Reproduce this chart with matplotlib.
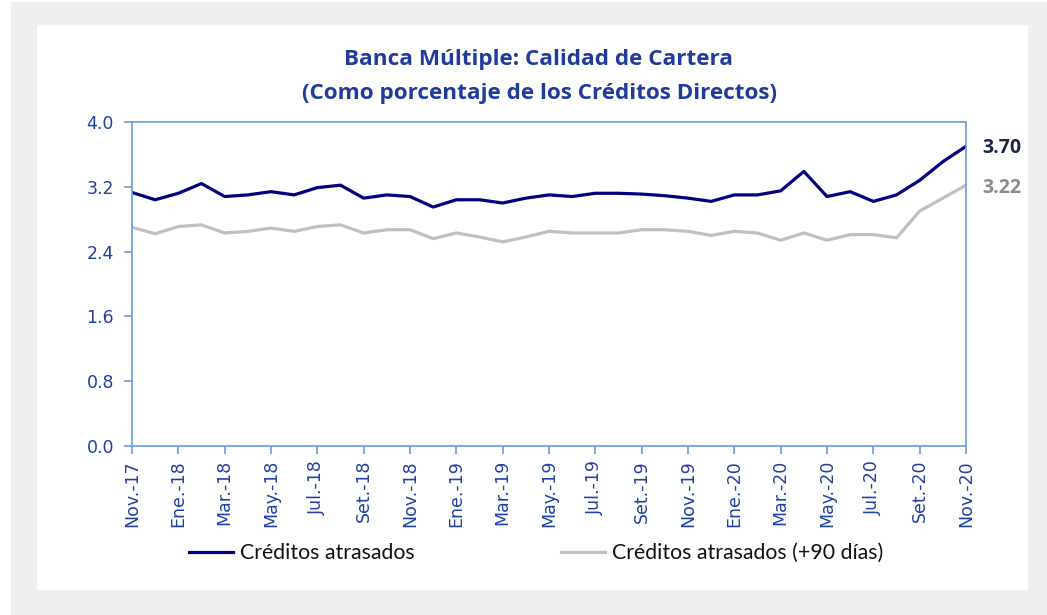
import matplotlib.pyplot as plt
from matplotlib.patches import Rectangle

# Data (monthly, Nov-17 .. Nov-20)
meses = ['Nov.-17', 'Dic.-17', 'Ene.-18', 'Feb.-18', 'Mar.-18', 'Abr.-18', 'May.-18', 'Jun.-18',
         'Jul.-18', 'Ago.-18', 'Set.-18', 'Oct.-18', 'Nov.-18', 'Dic.-18', 'Ene.-19', 'Feb.-19',
         'Mar.-19', 'Abr.-19', 'May.-19', 'Jun.-19', 'Jul.-19', 'Ago.-19', 'Set.-19', 'Oct.-19',
         'Nov.-19', 'Dic.-19', 'Ene.-20', 'Feb.-20', 'Mar.-20', 'Abr.-20', 'May.-20', 'Jun.-20',
         'Jul.-20', 'Ago.-20', 'Set.-20', 'Oct.-20', 'Nov.-20']
atrasados = [3.13, 3.04, 3.12, 3.24, 3.08, 3.10, 3.14, 3.10, 3.19, 3.22, 3.06, 3.10, 3.08,
             2.95, 3.04, 3.04, 3.00, 3.06, 3.10, 3.08, 3.12, 3.12, 3.11, 3.09, 3.06, 3.02,
             3.10, 3.10, 3.15, 3.39, 3.08, 3.14, 3.02, 3.10, 3.28, 3.51, 3.70]
atrasados_90 = [2.70, 2.62, 2.71, 2.73, 2.63, 2.65, 2.69, 2.65, 2.71, 2.73, 2.63, 2.67, 2.67,
                2.56, 2.63, 2.58, 2.52, 2.58, 2.65, 2.63, 2.63, 2.63, 2.67, 2.67, 2.65, 2.60,
                2.65, 2.63, 2.54, 2.63, 2.54, 2.61, 2.61, 2.57, 2.90, 3.06, 3.22]

W, H = 1047, 615
fig = plt.figure(figsize=(W / 100, H / 100), dpi=100)
fig.patch.set_facecolor('white')

# background panels
fig.patches.append(Rectangle((11 / W, 0), (W - 11) / W, (H - 2) / H, transform=fig.transFigure,
                             facecolor='#efefef', edgecolor='none', zorder=-2))
fig.patches.append(Rectangle((37 / W, (H - 590) / H), (1028 - 37) / W, (590 - 25) / H,
                             transform=fig.transFigure, facecolor='white', edgecolor='none', zorder=-1))

ax = fig.add_axes([132 / W, (H - 446) / H, (966 - 132) / W, (446 - 122) / H])
ax.set_facecolor('none')

x = list(range(len(meses)))
ax.plot(x, atrasados, color='#000080', lw=2.3, label='Créditos atrasados')
ax.plot(x, atrasados_90, color='#c0c0c0', lw=2.3, label='Créditos atrasados (+90 días)')

ax.set_xlim(0, len(meses) - 1)
ax.set_ylim(0, 4.0)
ax.set_yticks([0.0, 0.8, 1.6, 2.4, 3.2, 4.0])
ax.set_yticklabels(['0.0', '0.8', '1.6', '2.4', '3.2', '4.0'])
ax.set_xticks(x[::2])
ax.set_xticklabels(meses[::2], rotation=90)

spine_c = '#6a9be0'
tick_c = '#1f3fa6'
for s in ax.spines.values():
    s.set_color(spine_c)
    s.set_linewidth(1.2)
ax.tick_params(axis='both', colors=spine_c, length=6, width=1.2, labelcolor=tick_c,
               labelsize=12.5, direction='out')
ax.tick_params(axis='y', pad=7)
ax.tick_params(axis='x', pad=4)

# end labels
ax.annotate('3.70', xy=(x[-1], atrasados[-1]), xytext=(12, -1), textcoords='offset points',
            ha='left', va='center', fontsize=14, fontweight='bold', color='#1c2745',
            family='Open Sans', annotation_clip=False)
ax.annotate('3.22', xy=(x[-1], atrasados_90[-1]), xytext=(12, -2), textcoords='offset points',
            ha='left', va='center', fontsize=14, fontweight='bold', color='#8c8c8c',
            family='Open Sans', annotation_clip=False)

fig.text(539 / W, 1 - 59 / H, 'Banca Múltiple: Calidad de Cartera', ha='center', va='center',
         fontsize=16.2, fontweight='bold', color='#1f3c9c', family='Open Sans')
fig.text(539 / W, 1 - 94 / H, '(Como porcentaje de los Créditos Directos)', ha='center',
         va='center', fontsize=16.2, fontweight='bold', color='#1f3c9c', family='Open Sans')

leg = fig.legend(loc='center left', bbox_to_anchor=(180 / W, 1 - 553 / H), ncol=2, frameon=False,
                 prop={'family': 'Lato', 'size': 15.3}, handlelength=2.1, handletextpad=0.3,
                 columnspacing=6.9, borderaxespad=0)
for t in leg.get_texts():
    t.set_color('#111111')

fig.savefig('out.png', dpi=100)
